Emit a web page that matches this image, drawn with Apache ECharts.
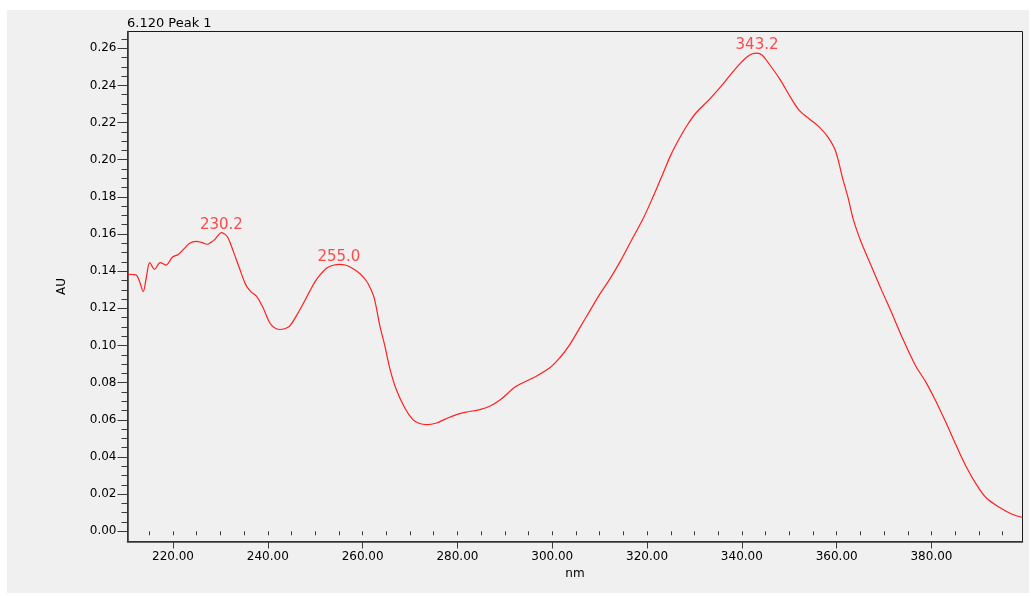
<!DOCTYPE html>
<html>
<head>
<meta charset="utf-8">
<script src="https://cdn.jsdelivr.net/npm/echarts@6/dist/echarts.min.js"></script>
<style>
  html, body { margin: 0; padding: 0; background: #ffffff; }
  #chart { width: 1031px; height: 596px; }
</style>
</head>
<body>
<div id="chart"></div>
<script>
// UV spectrum of peak 1 (retention time 6.120 min)
const wavelengths = [
  210.4, 211.5, 212.3, 213.0, 213.7, 214.4, 215.1, 216.1, 217.3, 218.5,
  219.9, 221.1, 222.3, 223.5, 224.9, 226.0, 227.2, 228.0, 228.8, 229.6,
  230.2, 231.0, 231.6, 232.7, 234.1, 235.3, 236.4, 237.6, 239.0, 240.4,
  241.4, 242.5, 243.5, 244.6, 246.7, 248.8, 250.0, 251.2, 252.5, 253.8,
  255.0, 256.5, 258.0, 259.5, 260.8, 261.6, 262.5, 263.6, 264.7, 265.7,
  267.1, 268.9, 270.6, 272.0, 273.5, 275.6, 277.5, 279.8, 282.0, 284.7,
  286.8, 288.9, 292.4, 296.0, 299.5, 301.6, 303.7, 305.8, 307.9, 310.0,
  312.1, 314.2, 317.0, 319.1, 321.2, 323.3, 325.1, 326.9, 328.6, 330.4,
  333.2, 336.0, 338.9, 341.0, 342.2, 343.2, 344.3, 345.5, 348.0, 350.5,
  352.2, 354.3, 356.4, 358.2, 359.6, 360.4, 361.3, 362.4, 363.5, 365.2,
  367.3, 369.4, 371.6, 373.7, 376.5, 378.9, 381.1, 383.1, 385.3, 387.3,
  389.5, 391.6, 394.4, 396.9, 399.2
];
const absorbance = [
  0.1383, 0.1382, 0.1378, 0.1340, 0.1290, 0.1370, 0.1446, 0.1410, 0.1446, 0.1433,
  0.1476, 0.1490, 0.1520, 0.1550, 0.1560, 0.1555, 0.1545, 0.1555, 0.1570, 0.1595,
  0.1607, 0.1598, 0.1580, 0.1508, 0.1410, 0.1329, 0.1290, 0.1266, 0.1203, 0.1122,
  0.1095, 0.1086, 0.1090, 0.1104, 0.1190, 0.1290, 0.1345, 0.1385, 0.1418, 0.1432,
  0.1437, 0.1432, 0.1413, 0.1385, 0.1347, 0.1310, 0.1250, 0.1110, 0.0996, 0.0880,
  0.0763, 0.0664, 0.0601, 0.0580, 0.0574, 0.0583, 0.0605, 0.0628, 0.0642, 0.0655,
  0.0673, 0.0705, 0.0780, 0.0826, 0.0880, 0.0934, 0.1005, 0.1095, 0.1185, 0.1275,
  0.1356, 0.1446, 0.1580, 0.1679, 0.1796, 0.1922, 0.2030, 0.2118, 0.2191, 0.2254,
  0.2326, 0.2407, 0.2497, 0.2551, 0.2570, 0.2574, 0.2562, 0.2524, 0.2434, 0.2326,
  0.2263, 0.2218, 0.2174, 0.2120, 0.2057, 0.1990, 0.1895, 0.1796, 0.1679, 0.1554,
  0.1428, 0.1302, 0.1176, 0.1050, 0.0898, 0.0799, 0.0691, 0.0583, 0.0457, 0.0349,
  0.0251, 0.0179, 0.0128, 0.0093, 0.0074
];

// Labelled absorbance maxima
const peakWavelengths = [230.2, 255.0, 343.2];
const peakAbsorbance = [0.1607, 0.1437, 0.2574];

// Axis ticks
const xMajorTicks = [220, 240, 260, 280, 300, 320, 340, 360, 380];
const xMinorTicks = [215, 220, 225, 230, 235, 240, 245, 250, 255, 260, 265, 270, 275,
  280, 285, 290, 295, 300, 305, 310, 315, 320, 325, 330, 335, 340, 345, 350, 355,
  360, 365, 370, 375, 380, 385, 390, 395];
const yMajorTicks = [0, 0.02, 0.04, 0.06, 0.08, 0.10, 0.12, 0.14, 0.16, 0.18, 0.20, 0.22, 0.24, 0.26];
const yMinorTicks = [0.005, 0.01, 0.015, 0.02, 0.025, 0.03, 0.035, 0.04, 0.045, 0.05,
  0.055, 0.06, 0.065, 0.07, 0.075, 0.08, 0.085, 0.09, 0.095, 0.1, 0.105, 0.11, 0.115,
  0.12, 0.125, 0.13, 0.135, 0.14, 0.145, 0.15, 0.155, 0.16, 0.165, 0.17, 0.175, 0.18,
  0.185, 0.19, 0.195, 0.2, 0.205, 0.21, 0.215, 0.22, 0.225, 0.23, 0.235, 0.24, 0.245,
  0.25, 0.255, 0.26, 0.265];

const titleText = '6.120 Peak 1';
const xName = 'nm';
const yName = 'AU';

const X_MIN = 210.4, X_MAX = 399.2, Y_MIN = -0.0055, Y_MAX = 0.269;
const FONT = 'DejaVu Sans';
const AXIS_COLOR = '#3a3a3a';
const TRACE_COLOR = '#ff2020';

const chart = echarts.init(document.getElementById('chart'), null, { renderer: 'canvas' });

const spectrum = wavelengths.map((w, i) => [w, absorbance[i]]);
const peaks = peakWavelengths.map((w, i) => [w, peakAbsorbance[i]]);

chart.setOption({
  animation: false,
  backgroundColor: '#ffffff',
  graphic: [{
    type: 'rect',
    z: -10,
    silent: true,
    shape: { x: 7, y: 10, width: 1022, height: 583 },
    style: { fill: '#f0f0f0' }
  }],
  title: {
    text: titleText,
    left: 127,
    top: 17,
    padding: 0,
    textStyle: { fontFamily: FONT, fontSize: 13, fontWeight: 'normal', color: '#000' }
  },
  grid: {
    left: 127.5, right: 8.5, top: 31.5, bottom: 54.5,
    show: true,
    backgroundColor: '#f0f0f0',
    borderColor: '#1a1a1a',
    borderWidth: 1
  },
  xAxis: [{
    type: 'value',
    min: X_MIN, max: X_MAX,
    name: xName,
    nameLocation: 'middle',
    nameGap: 23,
    nameTextStyle: { fontFamily: FONT, fontSize: 12, color: '#000' },
    axisLine: { show: true, onZero: false, lineStyle: { color: AXIS_COLOR, width: 1.6 } },
    axisTick: { show: true, customValues: xMajorTicks, length: 7, lineStyle: { color: AXIS_COLOR, width: 1 } },
    axisLabel: {
      customValues: xMajorTicks, margin: 9,
      fontFamily: FONT, fontSize: 12, color: '#000',
      formatter: v => v.toFixed(2)
    },
    splitLine: { show: false }
  }, {
    type: 'value',
    min: X_MIN, max: X_MAX,
    position: 'bottom',
    axisLine: { show: false },
    axisTick: { show: true, customValues: xMinorTicks, length: 4, lineStyle: { color: AXIS_COLOR, width: 1 } },
    axisLabel: { show: false },
    splitLine: { show: false }
  }],
  yAxis: [{
    type: 'value',
    min: Y_MIN, max: Y_MAX,
    name: yName,
    nameLocation: 'middle',
    nameGap: 60,
    nameTextStyle: { fontFamily: FONT, fontSize: 12, color: '#000' },
    axisLine: { show: true, onZero: false, lineStyle: { color: AXIS_COLOR, width: 1.6 } },
    axisTick: { show: true, customValues: yMajorTicks, length: 10, lineStyle: { color: AXIS_COLOR, width: 1 } },
    axisLabel: {
      customValues: yMajorTicks, margin: 11,
      fontFamily: FONT, fontSize: 12, color: '#000',
      formatter: v => v.toFixed(2)
    },
    splitLine: { show: false }
  }, {
    type: 'value',
    min: Y_MIN, max: Y_MAX,
    position: 'left',
    axisLine: { show: false },
    axisTick: { show: true, customValues: yMinorTicks, length: 6, lineStyle: { color: AXIS_COLOR, width: 1 } },
    axisLabel: { show: false },
    splitLine: { show: false }
  }],
  series: [{
    name: 'spectrum',
    type: 'line',
    data: spectrum,
    xAxisIndex: 0,
    yAxisIndex: 0,
    showSymbol: false,
    smooth: 0.35,
    lineStyle: { color: TRACE_COLOR, width: 1.2 },
    clip: true
  }, {
    name: 'peaks',
    type: 'scatter',
    data: peaks,
    xAxisIndex: 0,
    yAxisIndex: 0,
    symbolSize: 0,
    label: {
      show: true,
      position: 'top',
      distance: 0,
      fontFamily: FONT,
      fontSize: 15,
      color: TRACE_COLOR,
      formatter: p => p.value[0].toFixed(1)
    }
  }]
});
</script>
</body>
</html>
